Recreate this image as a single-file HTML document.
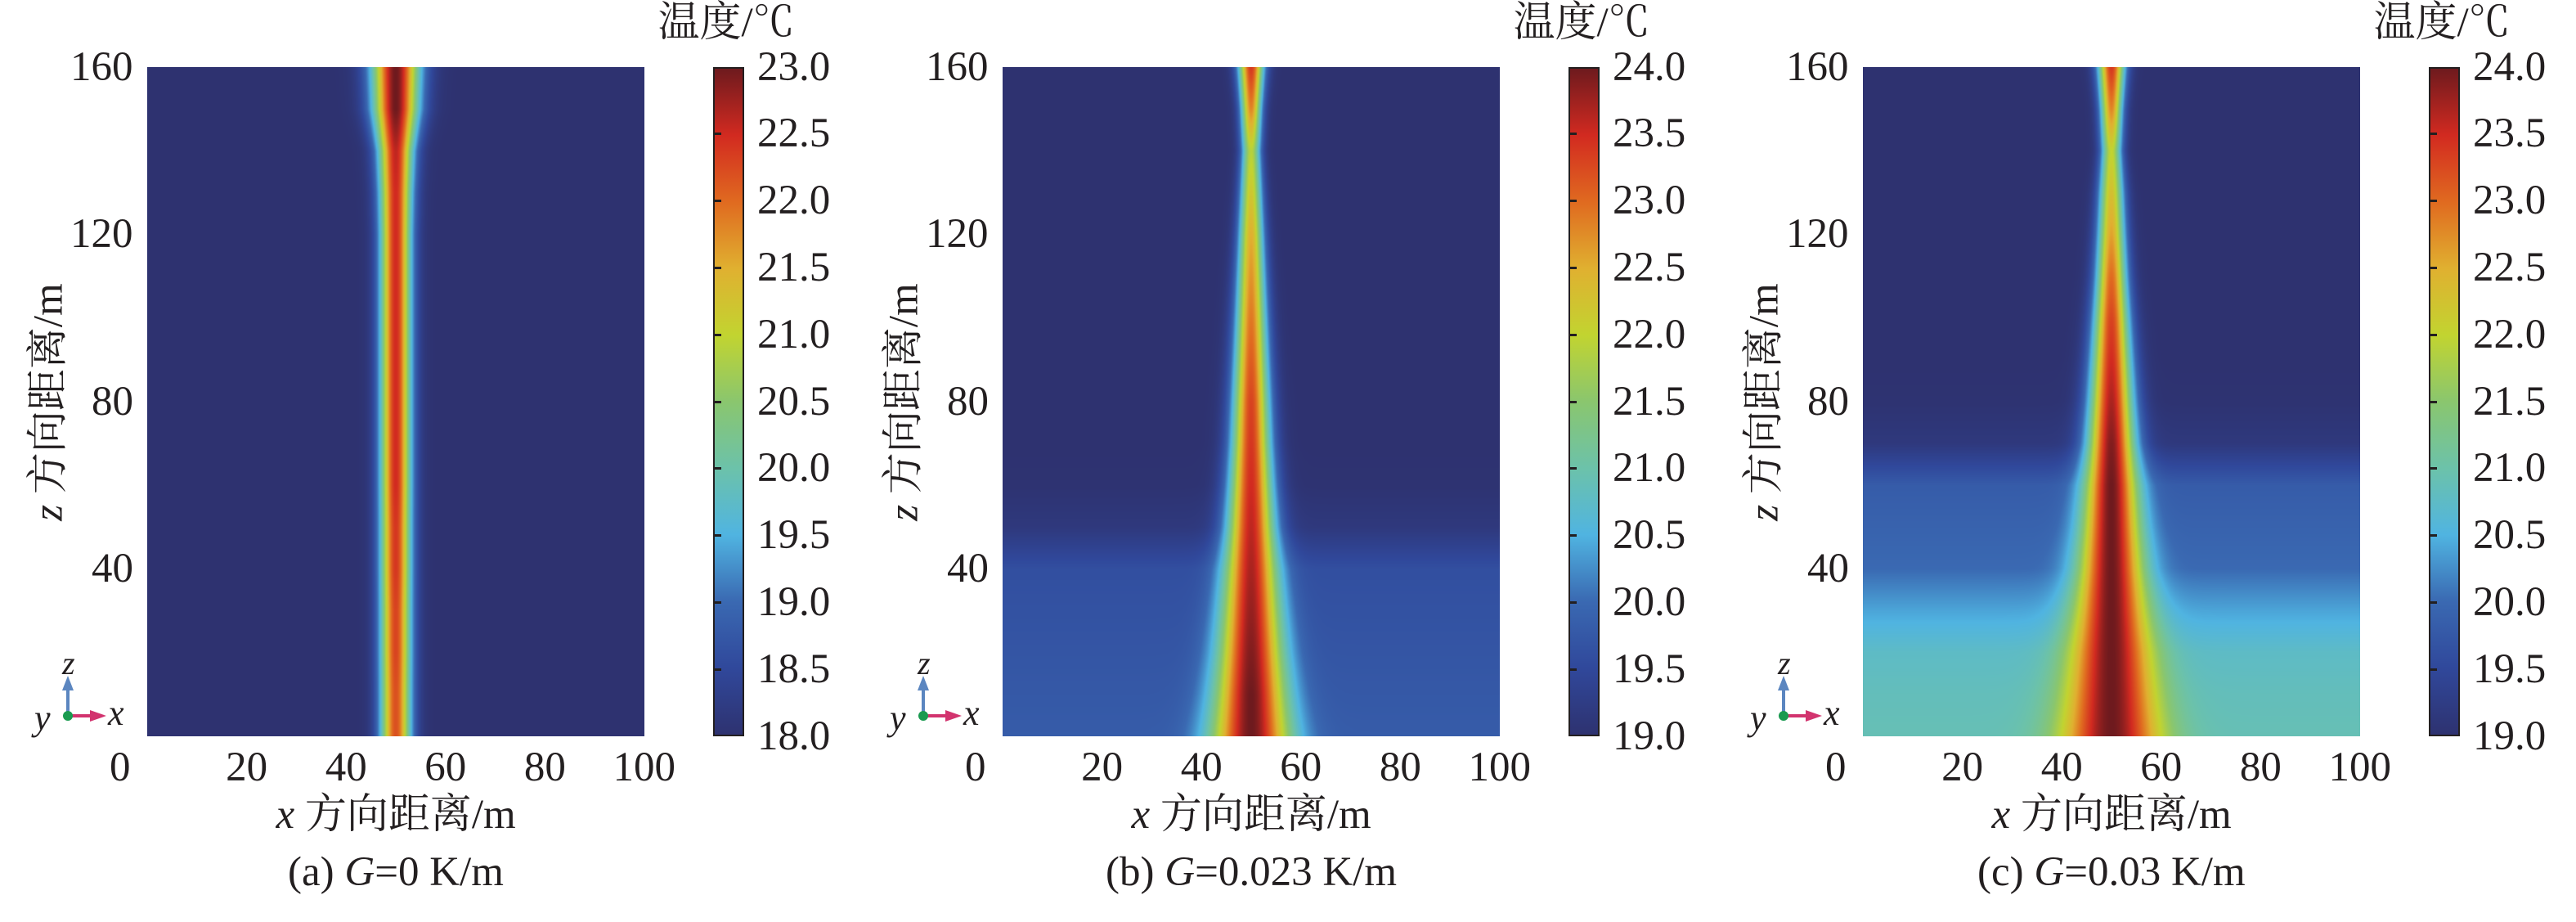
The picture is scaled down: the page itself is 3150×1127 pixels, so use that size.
<!DOCTYPE html>
<html><head><meta charset="utf-8">
<style>
body{margin:0;background:#fff;width:3150px;height:1127px;overflow:hidden;position:relative;font-family:"Liberation Serif","Noto Serif CJK SC",serif;color:#231f20}
.t{position:absolute;white-space:nowrap;font-size:51px;line-height:1}
canvas{position:absolute}
.cb{position:absolute;border:2px solid #231f20;box-sizing:border-box}
</style></head>
<body>
<script>
// shared z levels (m)
const zLevels=[0,10,20,30,40,50,60,70,80,90,100,110,120,130,140,150,160];
const xTicks=[0,20,40,60,80,100];
const zTicks=[40,80,120,160];
// panel (a)
const aCenter=[22.2,22.2,22.3,22.3,22.4,22.4,22.5,22.5,22.5,22.5,22.5,22.5,22.5,22.5,22.6,23.0,23.0];
const aSigma=[2.2,2.2,2.2,2.2,2.2,2.2,2.2,2.2,2.2,2.2,2.2,2.2,2.2,2.3,2.5,3.2,3.4];
const aBg=[18,18,18,18,18,18,18,18,18,18,18,18,18,18,18,18,18];
const aTicks=[18.0,18.5,19.0,19.5,20.0,20.5,21.0,21.5,22.0,22.5,23.0];
// panel (b)
const bCenter=[24,24,23.9,23.8,23.7,23.6,23.5,23.4,23.3,23.1,22.9,22.7,22.5,22.2,21.9,22.8,23.4];
const bSigma=[5.6,5.0,4.5,4.1,3.7,3.4,3.1,2.8,2.6,2.4,2.2,2.0,1.8,1.6,1.4,1.5,1.8];
const bBg=[19.8,19.75,19.7,19.65,19.6,19.15,19.02,19,19,19,19,19,19,19,19,19,19];
const bTicks=[19.0,19.5,20.0,20.5,21.0,21.5,22.0,22.5,23.0,23.5,24.0];
// panel (c)
const cCenter=[24,24,24,24,24,24,24,23.9,23.7,23.5,23.3,23.0,22.6,22.3,22.0,22.8,23.4];
const cSigma=[7,6.3,5.7,5.1,4.6,4.1,3.7,3.4,3.1,2.8,2.5,2.2,2.0,1.8,1.5,1.6,1.9];
const cBg=[20.9,20.85,20.75,20.4,20.0,19.9,19.8,19.15,19.02,19,19,19,19,19,19,19,19];
const cTicks=[19.0,19.5,20.0,20.5,21.0,21.5,22.0,22.5,23.0,23.5,24.0];

const cmap=[[0,[46,50,112]],[0.1,[48,72,155]],[0.2,[58,105,178]],[0.3,[80,180,225]],[0.4,[108,194,170]],[0.5,[138,198,110]],[0.6,[194,212,48]],[0.7,[224,176,48]],[0.8,[224,106,32]],[0.9,[210,42,32]],[1,[110,26,30]]];
function col(t){t=Math.max(0,Math.min(1,t));for(let i=1;i<cmap.length;i++){if(t<=cmap[i][0]){const a=cmap[i-1],b=cmap[i];const f=(t-a[0])/(b[0]-a[0]);return a[1].map((v,k)=>Math.round(v+(b[1][k]-v)*f));}}return cmap[cmap.length-1][1];}
function interp(arr,z){const i=Math.min(arr.length-2,Math.floor(z/10));const f=z/10-i;return arr[i]+(arr[i+1]-arr[i])*f;}
function txt(s,x,y,anchor,name,extra){const d=document.createElement('div');d.className='t';d.innerHTML=s;


if(extra)d.style.cssText+=extra;document.body.appendChild(d);const w=d.offsetWidth,h=d.offsetHeight;
let L=x;if(anchor==='m')L=x-w/2;if(anchor==='e')L=x-w;d.style.left=L+'px';d.style.top=(y-h/2)+'px';return d;}

function panel(ox,center,sigma,bg,ticks,label,id){
 const PX=ox+180,PY=82,PW=608,PH=818;
 const cv=document.createElement('canvas');cv.width=PW;cv.height=PH;cv.style.left=PX+'px';cv.style.top=PY+'px';
 
 
 document.body.appendChild(cv);
 const ctx=cv.getContext('2d');const img=ctx.createImageData(PW,PH);
 const tmin=ticks[0],tmax=ticks[ticks.length-1];
 for(let py=0;py<PH;py++){const z=160*(1-py/(PH-1));const c=interp(center,z),s=interp(sigma,z),b=interp(bg,z);
  for(let px=0;px<PW;px++){const x=100*px/(PW-1);const dx=x-50;
   const T=b+(c-b)*Math.exp(-dx*dx/(2*s*s));const rgb=col((T-tmin)/(tmax-tmin));const k=(py*PW+px)*4;
   img.data[k]=rgb[0];img.data[k+1]=rgb[1];img.data[k+2]=rgb[2];img.data[k+3]=255;}}
 ctx.putImageData(img,0,0);
 xTicks.forEach((v,i)=>{const x=v===0?ox+147:PX+PW*v/100;txt(String(v),x,938,'m','x-tick-'+id);});
 zTicks.forEach(v=>{txt(String(v),ox+163,PY+PH*(1-v/160),'e','z-tick-'+id);});
 txt('<i>x</i> 方向距离/m',ox+484,996,'m','x-axis-title-'+id);
 const yt=txt('<i>z</i> 方向距离/m',ox+60,491,'m','y-axis-title-'+id,'');yt.style.transform='rotate(-90deg)';
 txt(label,ox+484,1066,'m','caption-'+id);
 // colorbar
 const CX=ox+872,CW=38;
 const cb=document.createElement('div');cb.className='cb';
 
 
 cb.style.cssText+=`left:${CX}px;top:${PY}px;width:${CW}px;height:${PH}px;background:linear-gradient(to top,${cmap.map(s=>`rgb(${s[1].join(',')}) ${s[0]*100}%`).join(',')})`;
 document.body.appendChild(cb);
 ticks.forEach((v,i)=>{const y=PY+PH*(1-(v-tmin)/(tmax-tmin));
  const tk=document.createElement('div');tk.style.cssText=`position:absolute;left:${CX}px;top:${y-1.5}px;width:10px;height:3px;background:#231f20`;
  
  
  if(i>0&&i<ticks.length-1)document.body.appendChild(tk);
  txt(v.toFixed(1),CX+54,y,'s','colorbar-label-'+id);});
 txt('温度/℃',CX+16,28,'m','colorbar-title-'+id);
 // axis triad
 const svg=document.createElementNS('http://www.w3.org/2000/svg','svg');
 
 
 svg.setAttribute('width','140');svg.setAttribute('height','110');
 svg.style.cssText=`position:absolute;left:${ox+30}px;top:${800}px`;
 svg.innerHTML='<line x1="53" y1="75" x2="53" y2="40" stroke="#5b86c0" stroke-width="4"/><polygon points="46,44 60,44 53,26" fill="#5b86c0"/><line x1="53" y1="75" x2="85" y2="75" stroke="#d2336e" stroke-width="4"/><polygon points="80,68 80,82 100,75" fill="#d2336e"/><circle cx="53" cy="75" r="6" fill="#1a9a50"/><text x="46" y="24" font-family="Liberation Serif" font-style="italic" font-size="40" fill="#231f20">z</text><text x="102" y="86" font-family="Liberation Serif" font-style="italic" font-size="44" fill="#231f20">x</text><text x="12" y="92" font-family="Liberation Serif" font-style="italic" font-size="44" fill="#231f20">y</text>';
 document.body.appendChild(svg);
}
panel(0,aCenter,aSigma,aBg,aTicks,'(a) <i>G</i>=0 K/m','a');
panel(1046,bCenter,bSigma,bBg,bTicks,'(b) <i>G</i>=0.023 K/m','b');
panel(2098,cCenter,cSigma,cBg,cTicks,'(c) <i>G</i>=0.03 K/m','c');
</script>
</body></html>
